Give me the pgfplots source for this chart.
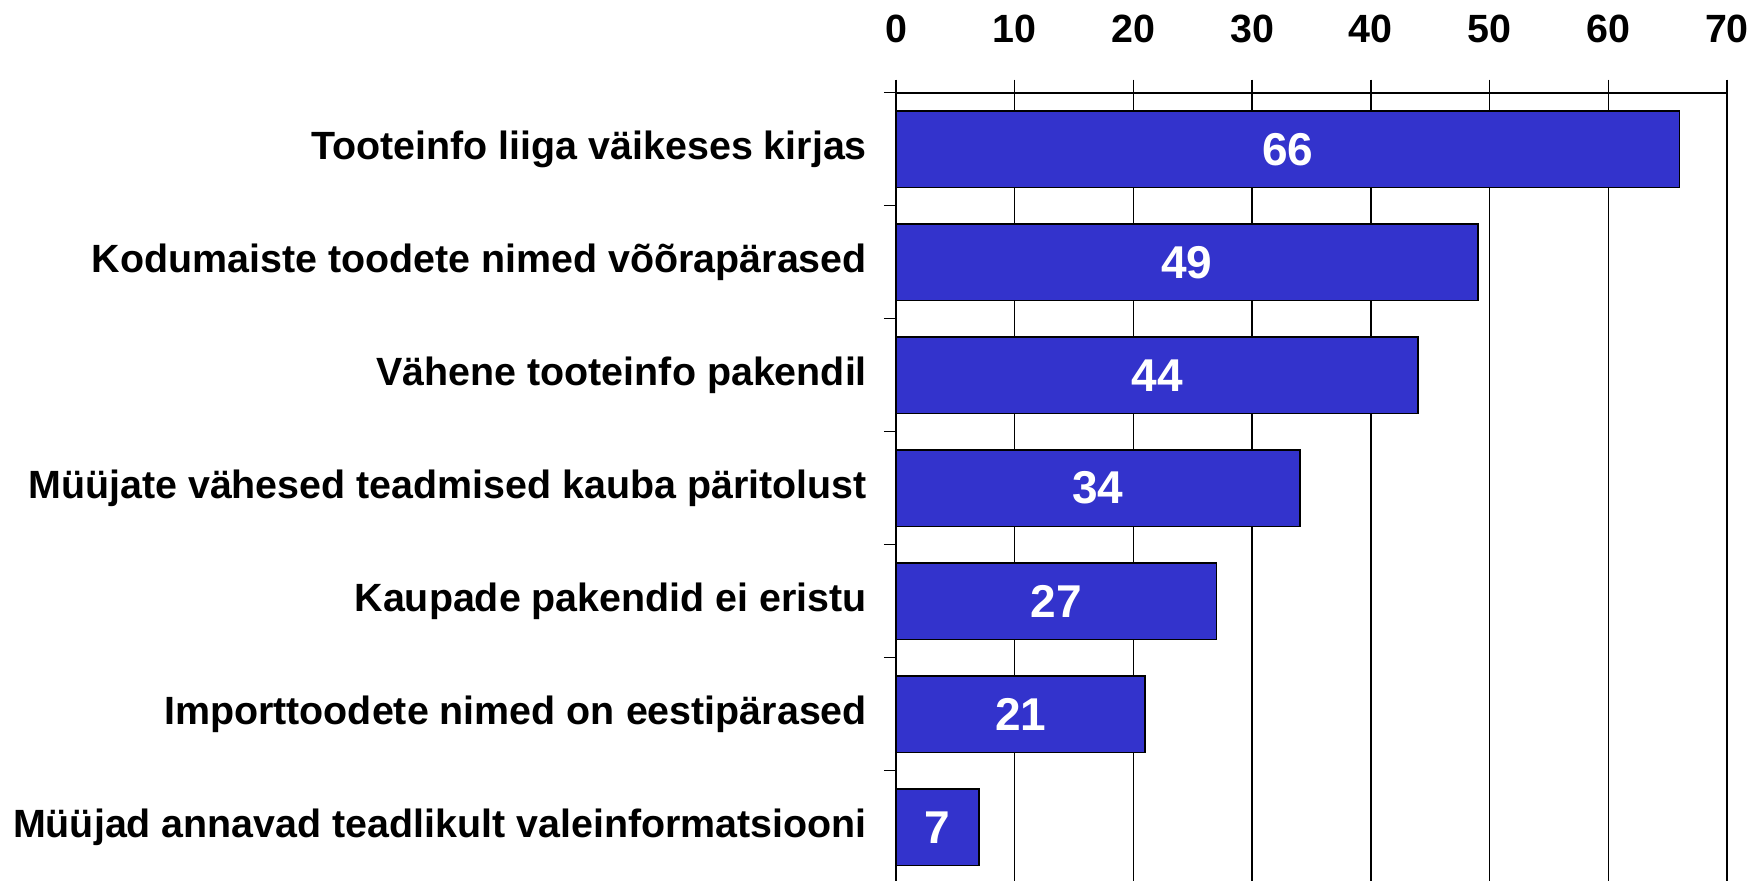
\documentclass[border=0pt]{standalone}
\usepackage{fontspec}
\setmainfont{Liberation Sans}
\usepackage{pgfplots}
\pgfplotsset{compat=1.18}
\usepackage{pgfplotstable}
\definecolor{barblue}{HTML}{3333CC}

\pgfplotstableread{
y v
6 66
5 49
4 44
3 34
2 27
1 21
0 7
}\datatable

\begin{document}
\begin{tikzpicture}
\begin{axis}[name=ax, scale only axis, width=415.5pt, height=395.5pt,
 xmin=0, xmax=70, ymin=-0.5, ymax=6.5,
 axis x line=top, axis y line=left, axis line style={-, line width=0.9pt, black},
 xtick={0,10,...,70}, xmajorgrids, grid style={black, line width=0.75pt},
 tick align=outside, major tick length=6.5pt,
 major x tick style={line width=0.75pt, black},
 ytick={0,...,6},
 yticklabels={Müüjad annavad teadlikult valeinformatsiooni, Importtoodete nimed on eestipärased, Kaupade pakendid ei eristu, Müüjate vähesed teadmised kauba päritolust, Vähene tooteinfo pakendil, Kodumaiste toodete nimed võõrapärased, Tooteinfo liiga väikeses kirjas},
 major y tick style={draw=none},
 minor ytick={-0.5,0.5,...,6.5}, minor tick length=6pt,
 minor y tick style={black, line width=0.75pt},
 ticklabel style={font=\fontsize{19.7}{22}\selectfont\bfseries},
 /pgf/number format/assume math mode=true,
 xticklabel style={yshift=14.7pt},
 yticklabel style={xshift=-4.5pt},
 clip=false]
\addplot[xbar, fill=barblue, draw=black, line width=0.9pt, bar width=38.3pt] table[x=v, y=y]{\datatable};
\addplot[draw=none, mark=none, nodes near coords, point meta=explicit,
 every node near coord/.style={anchor=center, text=white, font=\fontsize{23}{26}\selectfont\bfseries}]
 table[x expr=\thisrow{v}/2, y=y, meta=v]{\datatable};
\end{axis}
\pgfresetboundingbox
\path[use as bounding box] ([shift={(-448pt,46.35pt)}]ax.north west) rectangle ([shift={(427.5pt,-393.65pt)}]ax.north west);
\end{tikzpicture}
\end{document}
